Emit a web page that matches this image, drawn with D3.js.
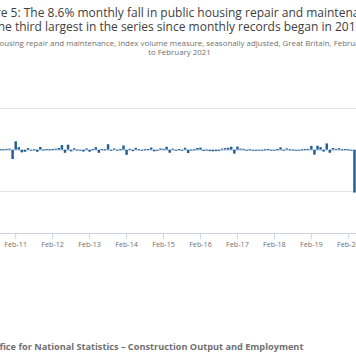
<!DOCTYPE html>
<html>
<head>
<meta charset="utf-8">
<script src="https://cdnjs.cloudflare.com/ajax/libs/d3/7.8.5/d3.min.js"></script>
<style>
  html, body { margin: 0; padding: 0; background: #fff; overflow: hidden; }
  svg { display: block; font-family: "Open Sans", sans-serif; }
</style>
</head>
<body>
<svg id="chart" width="356" height="364"></svg>
<script>
// ---- Data ----
const titleLines = [
  "Figure 5: The 8.6% monthly fall in public housing repair and maintenance",
  "is the third largest in the series since monthly records began in 2010"
];
const subtitleLines = [
  "Public housing repair and maintenance, index volume measure, seasonally adjusted, Great Britain, February 2010",
  "to February 2021"
];
const sourceText = "Source: Office for National Statistics \u2013 Construction Output and Employment";

// Monthly categories, February 2010 to February 2021
const months = d3.timeMonth.range(new Date(2010, 1, 1), new Date(2021, 2, 1));

// Monthly % change, public housing repair and maintenance
const values = [
  1.2, -0.8, 0.6, -1.0, 0.4, 0.9, -0.6, 0.3, 0.2, 0.4, 0.5,          // Feb-10 .. Dec-10
  -4.5, 4.0, 1.2, -1.3, -1.0, 0.8, -0.4, 0.2, -1.0, 1.3, 0.1, 0.3,   // 2011
  0.2, 0.3, 0.5, 0.8, 2.2, -1.5, 2.4, -0.8, 0.7, 0.1, 0.0, -0.9,     // 2012
  0.6, -1.0, 0.3, 1.2, -1.5, 0.3, 0.2, 2.6, -0.5, 0.6, -0.4, 0.3,    // 2013
  2.0, -2.5, 0.4, -0.7, 0.9, 0.2, -0.3, 0.2, 0.3, 1.0, -0.8, -0.5,   // 2014
  0.6, 0.4, 1.4, -1.5, 0.5, -0.3, 0.3, -0.2, 0.9, -1.6, 0.1, 0.2,    // 2015
  0.8, 1.0, -0.6, 0.1, -0.7, -0.8, -0.7, -0.6, 0.5, 0.7, 0.9, 1.4,   // 2016
  -1.9, 1.5, 0.5, 0.4, -0.3, 0.2, 0.0, -0.5, 0.0, 0.0, 0.2, 0.3,     // 2017
  -0.3, -0.4, 0.3, 1.1, -0.3, 0.6, 0.2, 0.1, -0.5, 0.0, 0.2, 0.3,    // 2018
  0.4, 1.8, -2.4, 1.9, 1.2, -0.9, 3.0, -1.5, 0.8, 0.4, 0.7, 0.2,     // 2019
  0.3, 0.2, -0.3, -20.6, 12.5, 9.8, 4.1, 2.3, 1.6, -0.9, 2.0, -1.4,  // 2020
  0.5, -8.6                                                          // Jan-21, Feb-21
];

const tickLabels = ["Feb-10","Feb-11","Feb-12","Feb-13","Feb-14","Feb-15",
                    "Feb-16","Feb-17","Feb-18","Feb-19","Feb-20","Feb-21"];
const yTicks = [20, 0, -20, -40];

// ---- Layout ----
const svg = d3.select("#chart");
const plot = { left: -22.8, right: 386.8, top: 108, bottom: 233 };
const titleCenters = [176, 172];
const subCenters = [178.5, 179.5];

const parseTick = d3.timeParse("%b-%y");
const fmt = d3.timeFormat("%b-%y");

const x = d3.scaleBand()
  .domain(months.map(d => +d))
  .range([plot.left, plot.right])
  .paddingInner(0.2)
  .paddingOuter(0.1);

const y = d3.scaleLinear()
  .domain([-40, 20])
  .range([plot.bottom, plot.top]);

// Title
const title = svg.append("g");
titleLines.forEach((t, i) => {
  title.append("text")
    .attr("x", titleCenters[i])
    .attr("y", 16.8 + i * 14.3)
    .attr("text-anchor", "middle")
    .attr("font-size", 12.0)
    .attr("fill", "#414042")
    .text(t);
});
subtitleLines.forEach((t, i) => {
  title.append("text")
    .attr("x", subCenters[i])
    .attr("y", 45.5 + i * 9)
    .attr("text-anchor", "middle")
    .attr("font-size", 7.9)
    .attr("fill", "#707071")
    .text(t);
});

// Gridlines
svg.append("g")
  .selectAll("line")
  .data(yTicks.filter(v => v !== -40))
  .join("line")
  .attr("x1", plot.left).attr("x2", plot.right)
  .attr("y1", d => Math.round(y(d)) + 0.5).attr("y2", d => Math.round(y(d)) + 0.5)
  .attr("stroke", d => d === 0 ? "#d6dceb" : "#e4e4e4")
  .attr("stroke-width", 1);

// Bars
const bw = x.bandwidth();
svg.append("g")
  .selectAll("rect")
  .data(values.map((v, i) => ({ m: +months[i], v })))
  .join("rect")
  .attr("x", d => x(d.m))
  .attr("width", bw)
  .attr("y", d => y(Math.max(0, d.v)))
  .attr("height", d => Math.max(1, Math.abs(y(d.v) - y(0))))
  .attr("fill", "#206095");

// X axis
const xAxis = d3.axisBottom(x)
  .tickValues(tickLabels.map(t => +parseTick(t)))
  .tickFormat(d => fmt(new Date(d)))
  .tickSize(6)
  .tickPadding(2.5);

const gx = svg.append("g")
  .attr("transform", `translate(0,${plot.bottom})`)
  .call(xAxis);
gx.select(".domain").attr("stroke", "#ccd3e6").attr("d", `M${plot.left},0.5H${plot.right}`);
gx.selectAll(".tick line").attr("stroke", "#ccd3e6");
gx.selectAll(".tick text")
  .attr("font-family", "'Open Sans', sans-serif")
  .attr("font-size", 7.2)
  .attr("fill", "#707071");

// Source
const srcSize = 9.2;
const src = svg.append("text")
  .attr("y", 349.5)
  .attr("font-size", srcSize)
  .attr("font-weight", "bold")
  .attr("fill", "#707071")
  .text(sourceText);
const probe = svg.append("text")
  .attr("font-size", srcSize).attr("font-weight", "bold")
  .text("Source: Of");
const hidden = probe.node().getComputedTextLength();
probe.remove();
src.attr("x", -hidden - 0.5);
</script>
</body>
</html>
